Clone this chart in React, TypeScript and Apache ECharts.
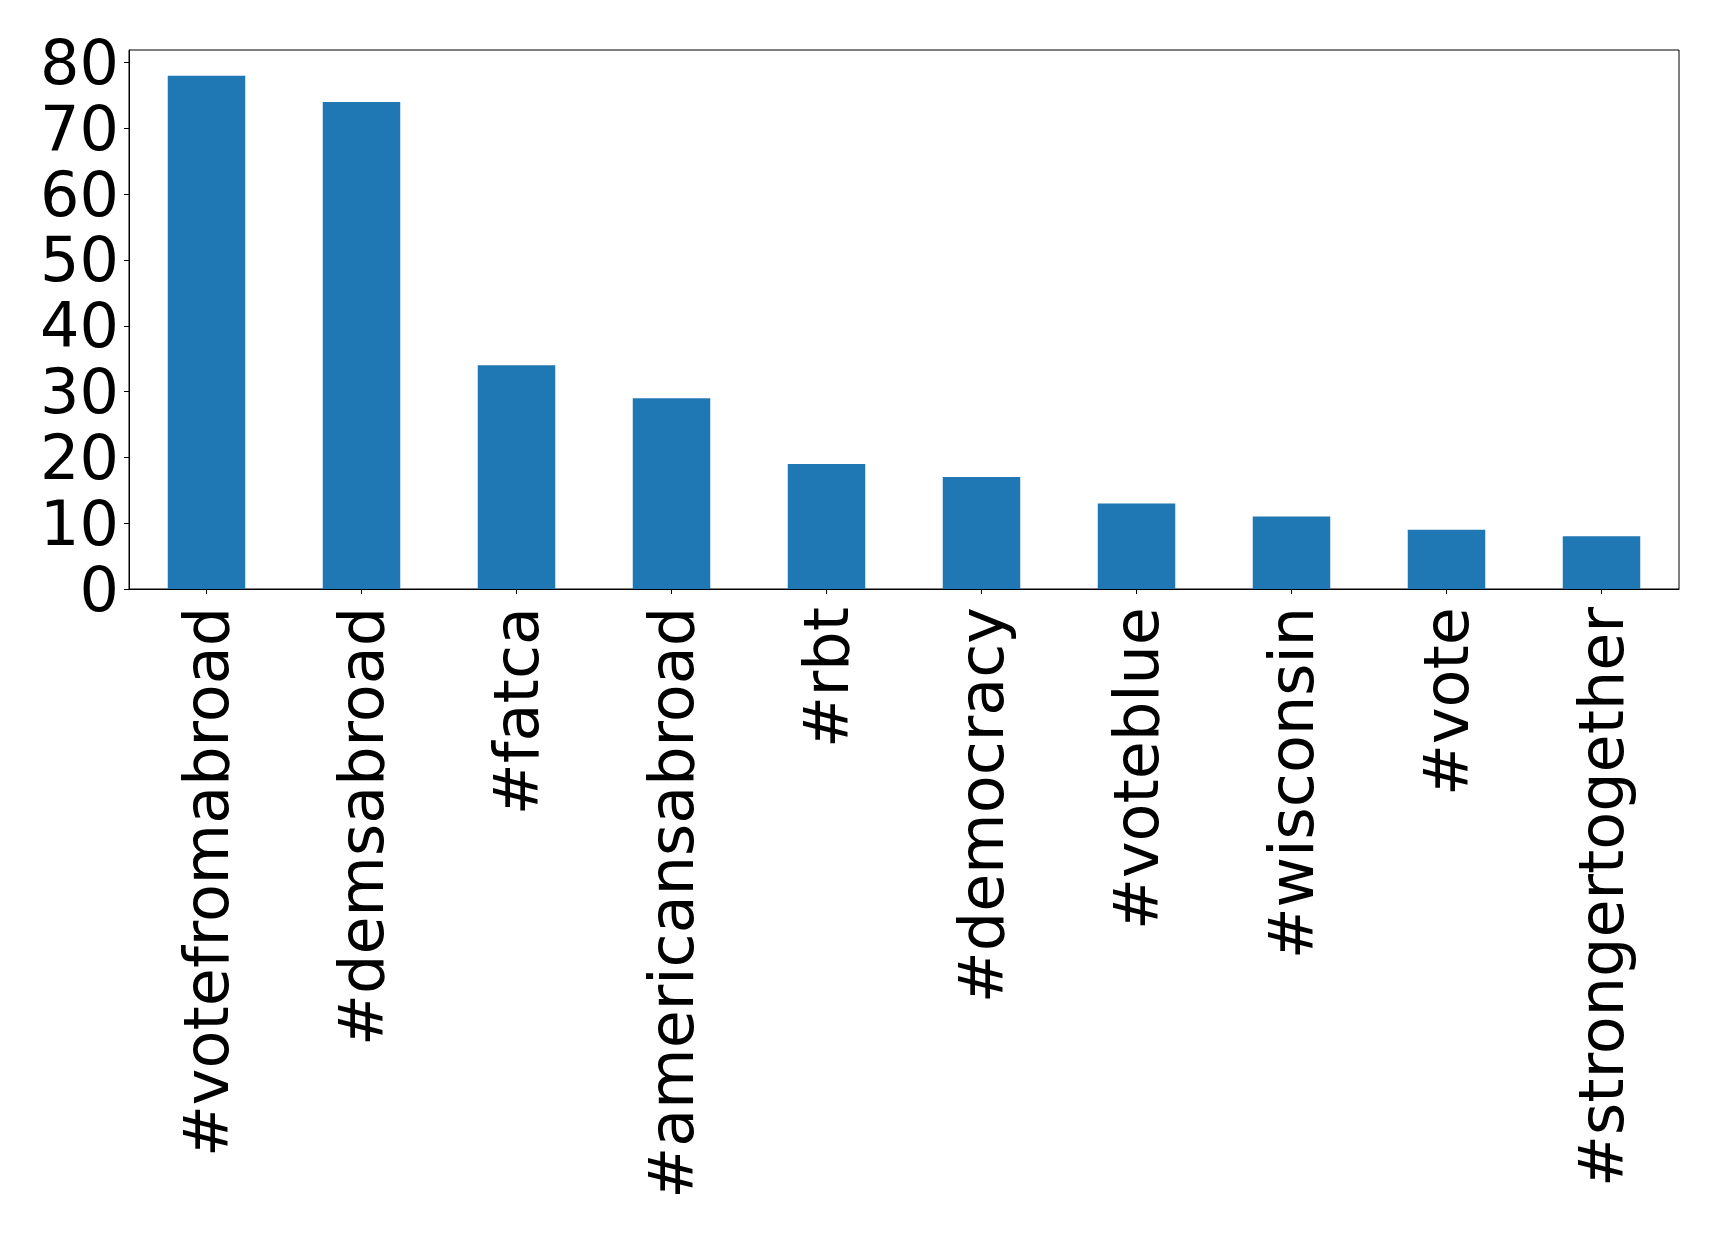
import React, { useEffect, useRef } from "react";
import * as echarts from "echarts";

const categories = [
  "#votefromabroad",
  "#demsabroad",
  "#fatca",
  "#americansabroad",
  "#rbt",
  "#democracy",
  "#voteblue",
  "#wisconsin",
  "#vote",
  "#strongertogether",
];
const values = [78, 74, 34, 29, 19, 17, 13, 11, 9, 8];
const yTicks = [0, 10, 20, 30, 40, 50, 60, 70, 80];

export default function App() {
  const ref = useRef<HTMLDivElement>(null);
  useEffect(() => {
    if (!ref.current) return;
    const chart = echarts.init(ref.current, null, { renderer: "svg" });
    const font = "DejaVu Sans";
    chart.setOption({
      animation: false,
      backgroundColor: "#ffffff",
      grid: {
        left: 129,
        top: 50,
        right: 40,
        bottom: 646,
        show: true,
        borderColor: "#000000",
        borderWidth: 1,
        backgroundColor: "transparent",
      },
      xAxis: {
        type: "category",
        data: categories,
        boundaryGap: true,
        axisLine: { show: true, lineStyle: { color: "#000000", width: 1 } },
        axisTick: { show: true, alignWithLabel: true, length: 5, lineStyle: { color: "#000000", width: 1 } },
        axisLabel: {
          rotate: 90,
          interval: 0,
          margin: 18,
          fontSize: 62,
          color: "#000000",
          fontFamily: font,
        },
        splitLine: { show: false },
      },
      yAxis: {
        type: "value",
        min: 0,
        max: 81.9,
        interval: 10,
        axisLine: { show: true, lineStyle: { color: "#000000", width: 1 } },
        axisTick: { show: true, length: 5, customValues: yTicks, lineStyle: { color: "#000000", width: 1 } },
        axisLabel: {
          customValues: yTicks,
          margin: 10,
          fontSize: 62,
          color: "#000000",
          fontFamily: font,
        },
        splitLine: { show: false },
      },
      series: [
        {
          type: "bar",
          data: values,
          barWidth: "50%",
          itemStyle: { color: "#1f77b4" },
        },
      ],
    });
    return () => chart.dispose();
  }, []);
  return (
    <div
      ref={ref}
      style={{ position: "fixed", left: 0, top: 0, width: 1719, height: 1235, background: "#fff" }}
    />
  );
}
